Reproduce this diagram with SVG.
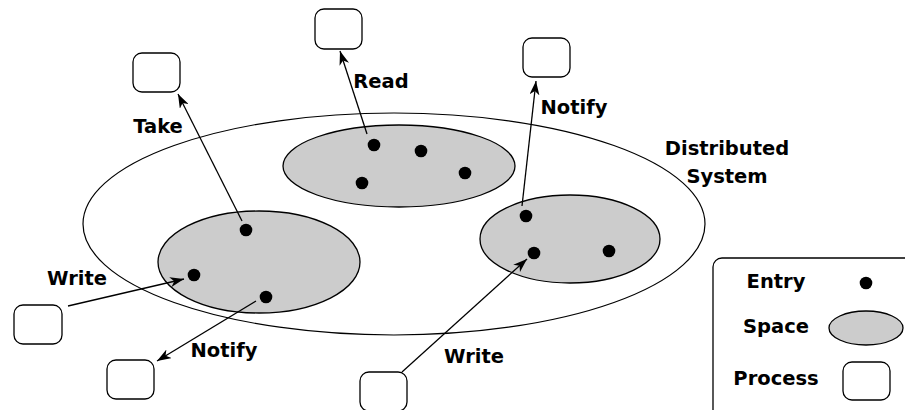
<svg xmlns="http://www.w3.org/2000/svg" width="905" height="410" viewBox="0 0 905 410">
<style>
.proc{fill:#fff;stroke:#000;stroke-width:1.3}
.space{fill:#cccccc;stroke:#000;stroke-width:1.3}
.sys{fill:none;stroke:#000;stroke-width:1.2}
.dot{fill:#000}
.conn{stroke:#000;stroke-width:1.3;fill:none;marker-end:url(#ah)}
text{font-family:"DejaVu Sans","Liberation Sans",sans-serif;font-weight:bold;font-size:19.5px;fill:#000;text-anchor:middle}
</style>
<defs>
<marker id="ah" viewBox="0 0 14 10" refX="14" refY="5" markerWidth="14" markerHeight="10" markerUnits="userSpaceOnUse" orient="auto">
<path d="M0,0 L14,5 L0,10 L4,5 z" fill="#000"/>
</marker>
</defs>
<rect width="905" height="410" fill="#fff"/>
<g id="distributed-system">
<ellipse class="sys" cx="394" cy="224" rx="311" ry="111"/>
<text x="727" y="155">Distributed</text>
<text x="727" y="183">System</text>
</g>
<g id="space-top">
<ellipse class="space" cx="399" cy="166" rx="116" ry="41"/>
<circle class="dot" cx="374" cy="145" r="6.3"/>
<circle class="dot" cx="421" cy="151" r="6.3"/>
<circle class="dot" cx="362" cy="183" r="6.3"/>
<circle class="dot" cx="465" cy="173" r="6.3"/>
</g>
<g id="space-left">
<ellipse class="space" cx="259" cy="262" rx="101" ry="51"/>
<circle class="dot" cx="246" cy="230" r="6.3"/>
<circle class="dot" cx="194" cy="275" r="6.3"/>
<circle class="dot" cx="266" cy="297" r="6.3"/>
</g>
<g id="space-right">
<ellipse class="space" cx="570" cy="239" rx="90" ry="44"/>
<circle class="dot" cx="526" cy="216" r="6.3"/>
<circle class="dot" cx="534" cy="253" r="6.3"/>
<circle class="dot" cx="609" cy="251" r="6.3"/>
</g>
<g id="process-take"><rect class="proc" x="133" y="53" width="47" height="39" rx="9"/></g>
<g id="process-read"><rect class="proc" x="315" y="9" width="47" height="40" rx="9"/></g>
<g id="process-notify-top"><rect class="proc" x="523" y="38" width="47" height="39" rx="9"/></g>
<g id="process-write-left"><rect class="proc" x="14" y="305" width="48" height="39" rx="9"/></g>
<g id="process-notify-bottom"><rect class="proc" x="107" y="360" width="47" height="39" rx="9"/></g>
<g id="process-write-bottom"><rect class="proc" x="360" y="372" width="47" height="39" rx="9"/></g>
<g id="connectors">
<line class="conn" x1="242" y1="221" x2="178" y2="94"/>
<text x="158" y="133">Take</text>
<line class="conn" x1="367" y1="134" x2="340" y2="51"/>
<text x="381" y="88">Read</text>
<line class="conn" x1="522" y1="206" x2="536" y2="81"/>
<text x="574" y="114">Notify</text>
<line class="conn" x1="68" y1="306" x2="184" y2="279"/>
<text x="77" y="285">Write</text>
<line class="conn" x1="256" y1="301" x2="157" y2="361"/>
<text x="224" y="357">Notify</text>
<line class="conn" x1="402" y1="372" x2="527" y2="259"/>
<text x="474" y="363">Write</text>
</g>
<g id="legend">
<rect x="713" y="258" width="230" height="200" rx="9" fill="#fff" stroke="#000" stroke-width="1.3"/>
<text x="776" y="288">Entry</text>
<circle class="dot" cx="866" cy="283" r="6.3"/>
<text x="776" y="333">Space</text>
<ellipse class="space" cx="866" cy="328" rx="37" ry="17"/>
<text x="776" y="385">Process</text>
<rect class="proc" x="843" y="362" width="47" height="38" rx="9"/>
</g>
</svg>
